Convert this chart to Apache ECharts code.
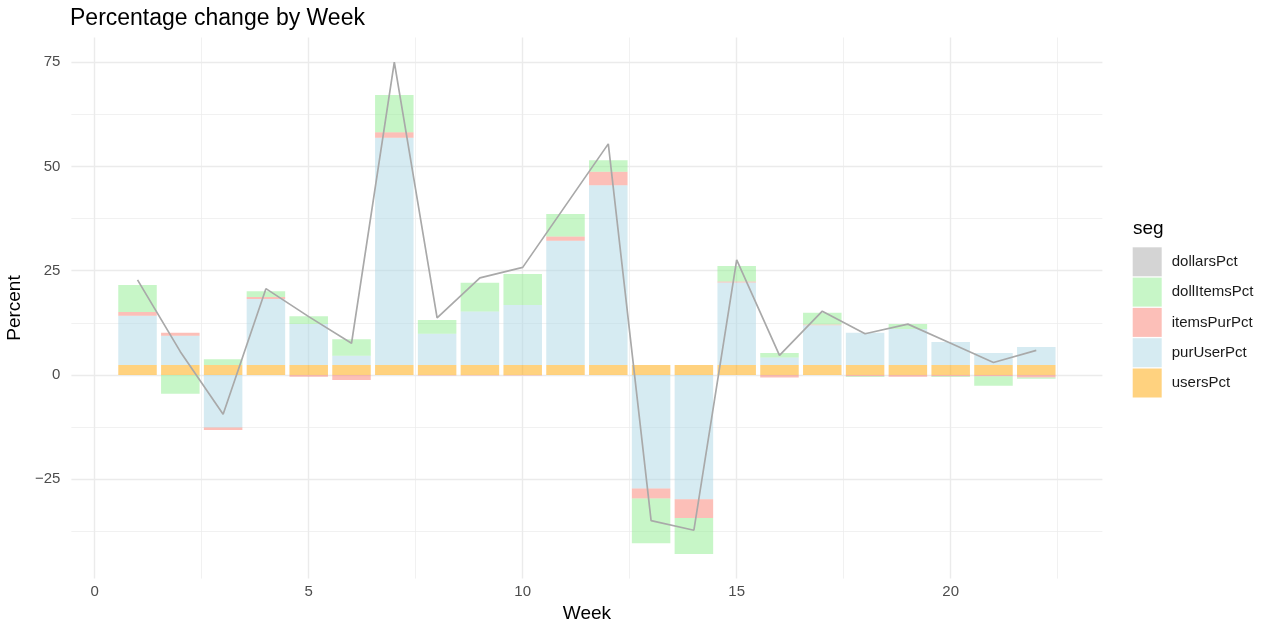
<!DOCTYPE html>
<html>
<head>
<meta charset="utf-8">
<script src="https://cdn.jsdelivr.net/npm/echarts@6/dist/echarts.min.js"></script>
<style>
html,body{margin:0;padding:0;background:#fff;}
#chart{width:1270px;height:628px;}
</style>
</head>
<body>
<div id="chart"></div>
<script>
const weeks = [1,2,3,4,5,6,7,8,9,10,11,12,13,14,15,16,17,18,19,20,21,22];
const usersPct = [2.4,2.4,2.4,2.4,2.4,2.4,2.4,2.4,2.4,2.4,2.4,2.4,2.4,2.4,2.4,2.4,2.4,2.4,2.4,2.4,2.4,2.4];
const purUserPct = [11.8,7.0,-12.6,15.8,9.8,2.2,54.5,7.5,12.8,14.4,29.8,43.1,-27.2,-29.8,19.8,1.8,9.5,7.7,8.6,5.5,2.9,4.3];
const itemsPurPct = [0.9,0.7,-0.6,0.5,-0.4,-1.2,1.3,-0.1,-0.1,-0.1,1.0,3.2,-2.4,-4.5,0.2,-0.6,0.2,-0.3,-0.4,-0.3,-0.3,-0.6];
const dollItemsPct = [6.5,-4.5,1.4,1.4,1.9,4.0,8.9,3.3,6.9,7.4,5.4,2.8,-10.7,-8.6,3.7,1.1,2.8,-0.2,1.2,-0.2,-2.3,-0.3];
const dollarsPct = [22.8,5.6,-9.4,20.7,14.0,7.6,75.0,13.7,23.3,25.8,40.6,55.4,-34.9,-37.2,27.6,4.7,15.3,9.9,12.2,7.6,3.0,5.9];

const xMajor = [0,5,10,15,20];
const xMinor = [2.5,7.5,12.5,17.5,22.5];
const yMajor = [-25,0,25,50,75];
const yMinor = [-37.5,-12.5,12.5,37.5,62.5];
const legendNames = ['dollarsPct','dollItemsPct','itemsPurPct','purUserPct','usersPct'];

const FONT = '"Liberation Sans", Arial, sans-serif';
const colors = {
  dollarsPct: 'rgba(169,169,169,0.5)',
  dollItemsPct: 'rgba(144,238,144,0.5)',
  itemsPurPct: 'rgba(250,128,114,0.5)',
  purUserPct: 'rgba(173,216,230,0.5)',
  usersPct: 'rgba(255,165,0,0.5)'
};

// value first, week second, so that stacking happens on the value (y) dimension
function valWeek(arr){ return weeks.map((w,i)=>[arr[i], w]); }

function barSeries(name, arr){
  return {
    name: name, type: 'bar', stack: 'seg', barWidth: 38.5,
    data: valWeek(arr), encode: {x: 1, y: 0},
    itemStyle: {color: colors[name]},
    z: 2, silent: true, animation: false
  };
}

const gridLineData = []
  .concat(xMajor.map(v=>({xAxis:v, lineStyle:{width:1.4, color:'#EBEBEB'}})))
  .concat(xMinor.map(v=>({xAxis:v, lineStyle:{width:0.7, color:'#EBEBEB'}})))
  .concat(yMajor.map(v=>({yAxis:v, lineStyle:{width:1.4, color:'#EBEBEB'}})))
  .concat(yMinor.map(v=>({yAxis:v, lineStyle:{width:0.7, color:'#EBEBEB'}})));

const chart = echarts.init(document.getElementById('chart'), null, {renderer:'canvas'});
chart.setOption({
  animation: false,
  backgroundColor: '#ffffff',
  title: {
    text: 'Percentage change by Week', left: 70, top: 7, padding: 0,
    textStyle: {fontFamily: FONT, fontSize: 23, fontWeight: 'normal', color: '#000'}
  },
  grid: {left: 71.4, right: 167.6, top: 37.5, bottom: 49.4, containLabel: false, outerBoundsMode: 'none'},
  xAxis: {
    type: 'value', min: -0.545, max: 23.545,
    name: 'Week', nameLocation: 'middle', nameGap: 26,
    nameTextStyle: {fontFamily: FONT, fontSize: 19, color: '#000'},
    axisLine: {show: false}, axisTick: {show: false}, splitLine: {show: false},
    axisLabel: {customValues: xMajor, fontFamily: FONT, fontSize: 15, color: '#4D4D4D', margin: 6}
  },
  yAxis: {
    type: 'value', min: -48.8, max: 80.9,
    name: 'Percent', nameLocation: 'middle', nameGap: 41, nameRotate: 90,
    nameTextStyle: {fontFamily: FONT, fontSize: 19, color: '#000'},
    axisLine: {show: false}, axisTick: {show: false}, splitLine: {show: false},
    axisLabel: {customValues: yMajor, fontFamily: FONT, fontSize: 15, color: '#4D4D4D', margin: 11,
      formatter: v => String(v).replace('-', '\u2212')}
  },
  legend: {
    data: legendNames, orient: 'vertical', left: 1132.7, top: 247.3,
    itemWidth: 29, itemHeight: 29, itemGap: 1.3, icon: 'rect', padding: 0,
    selectedMode: false,
    textStyle: {fontFamily: FONT, fontSize: 15, color: '#1A1A1A', padding: [0,0,0,5]}
  },
  graphic: [{
    type: 'text', left: 1133, top: 219,
    style: {text: 'seg', font: '19px "Liberation Sans", Arial, sans-serif', fill: '#000'}
  }],
  series: [
    {
      name: 'gridlines', type: 'line', data: [], silent: true, z: 0,
      markLine: {silent: true, symbol: 'none', z: 0, label: {show: false}, animation: false,
        lineStyle: {type: 'solid'}, data: gridLineData}
    },
    {name: 'dollarsPct', type: 'bar', stack: 'seg', barWidth: 38.5, data: [], encode: {x: 1, y: 0}, itemStyle: {color: colors.dollarsPct}},
    barSeries('usersPct', usersPct),
    barSeries('purUserPct', purUserPct),
    barSeries('itemsPurPct', itemsPurPct),
    barSeries('dollItemsPct', dollItemsPct),
    {
      name: 'dollarsLine', type: 'line', data: weeks.map((w,i)=>[w, dollarsPct[i]]), symbol: 'none',
      lineStyle: {color: '#A9A9A9', width: 1.7}, z: 5, silent: true
    }
  ]
});
</script>
</body>
</html>
